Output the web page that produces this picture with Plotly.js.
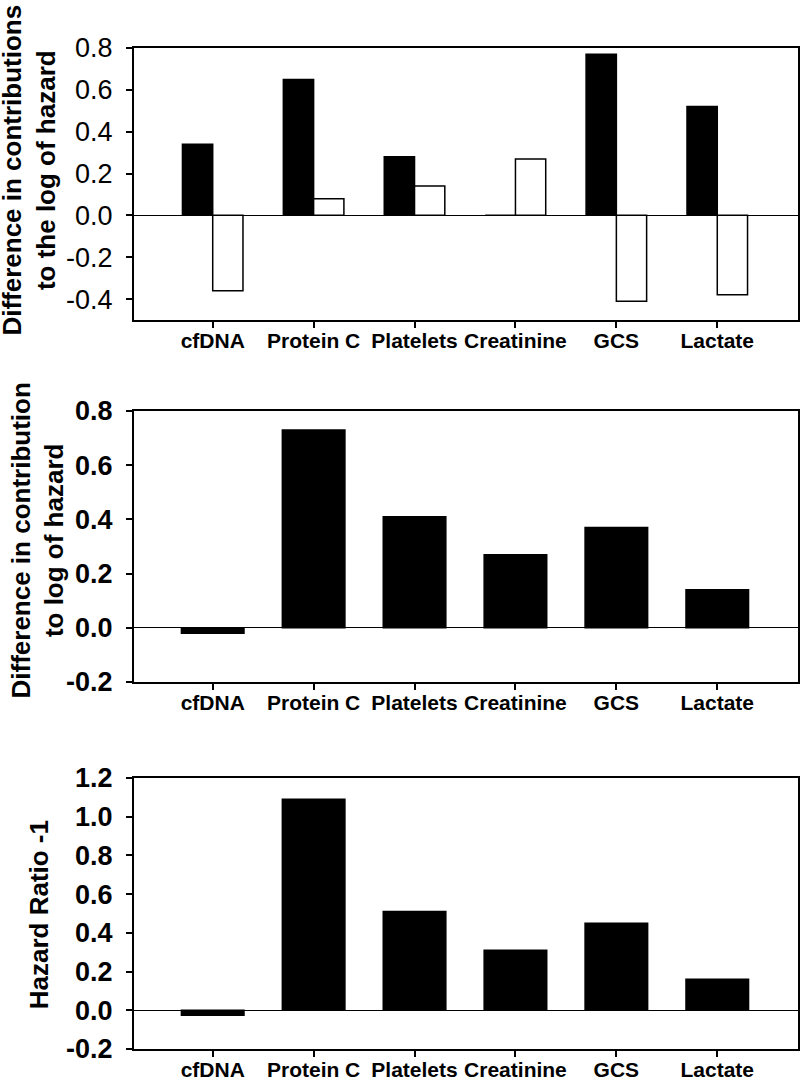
<!DOCTYPE html>
<html>
<head>
<meta charset="utf-8">
<script src="https://cdn.plot.ly/plotly-3.0.1.min.js"></script>
<style>html,body{margin:0;padding:0;background:#fff;}</style>
</head>
<body>
<div id="chart" style="width:800px;height:1080px;"></div>
<script>
// Categories
const categories = ['cfDNA', 'Protein C', 'Platelets', 'Creatinine', 'GCS', 'Lactate'];

// Panel 1: difference in contributions to the log of hazard (two series)
const panel1Filled = [0.34, 0.65, 0.28, 0.0, 0.77, 0.52];
const panel1Open   = [-0.36, 0.08, 0.14, 0.27, -0.41, -0.38];

// Panel 2: difference in contribution to log of hazard
const panel2Values = [-0.02, 0.73, 0.41, 0.27, 0.37, 0.14];

// Panel 3: hazard ratio - 1
const panel3Values = [-0.025, 1.09, 0.51, 0.31, 0.45, 0.16];

// Tick labels
const p1TickVals = [-0.4, -0.2, 0.0, 0.2, 0.4, 0.6, 0.8];
const p1TickText = ['-0.4', '-0.2', '0.0', '0.2', '0.4', '0.6', '0.8'];
const p2TickVals = [-0.2, 0.0, 0.2, 0.4, 0.6, 0.8];
const p2TickText = ['-0.2', '0.0', '0.2', '0.4', '0.6', '0.8'];
const p3TickVals = [-0.2, 0.0, 0.2, 0.4, 0.6, 0.8, 1.0, 1.2];
const p3TickText = ['-0.2', '0.0', '0.2', '0.4', '0.6', '0.8', '1.0', '1.2'];

const FONT = 'Liberation Sans, Arial, sans-serif';
const catIdx = categories.map((c, i) => i);

const barLine = {color: '#000', width: 1.5};

const traces = [
  {type: 'bar', x: catIdx, y: panel1Filled, xaxis: 'x', yaxis: 'y',
   width: 0.3, offset: -0.3, marker: {color: '#000', line: barLine}, showlegend: false},
  {type: 'bar', x: catIdx, y: panel1Open, xaxis: 'x', yaxis: 'y',
   width: 0.3, offset: 0.0, marker: {color: '#fff', line: barLine}, showlegend: false},
  {type: 'bar', x: catIdx, y: panel2Values, xaxis: 'x2', yaxis: 'y2',
   width: 0.62, marker: {color: '#000', line: barLine}, showlegend: false},
  {type: 'bar', x: catIdx, y: panel3Values, xaxis: 'x3', yaxis: 'y3',
   width: 0.62, marker: {color: '#000', line: barLine}, showlegend: false}
];

function xAxis(anchor) {
  return {
    anchor: anchor, domain: [0, 1], range: [-0.78, 5.8],
    tickmode: 'array', tickvals: catIdx, ticktext: categories,
    ticks: 'outside', ticklen: 6, tickwidth: 2, tickcolor: '#000',
    showline: true, linecolor: '#000', linewidth: 2, mirror: true,
    showgrid: false, zeroline: false, automargin: false,
    tickfont: {family: FONT, size: 21, color: '#000', weight: 'bold'},
    ticklabelstandoff: -5
  };
}
function yAxis(anchor, domain, range, vals, text, bold) {
  return {
    anchor: anchor, domain: domain, range: range,
    tickmode: 'array', tickvals: vals, ticktext: text,
    ticks: 'outside', ticklen: 6, tickwidth: 2, tickcolor: '#000',
    showline: true, linecolor: '#000', linewidth: 2, mirror: true,
    showgrid: false, zeroline: true, zerolinecolor: '#000', zerolinewidth: 1,
    automargin: false,
    tickfont: {family: FONT, size: 27, color: '#000', weight: bold ? 'bold' : 'normal'},
    ticklabelstandoff: 8
  };
}

const layout = {
  width: 800, height: 1080,
  margin: {l: 134, r: 2, t: 48, b: 31},
  paper_bgcolor: '#fff', plot_bgcolor: '#fff',
  barmode: 'overlay',
  font: {family: FONT, color: '#000'},
  xaxis: xAxis('y'),
  xaxis2: xAxis('y2'),
  xaxis3: xAxis('y3'),
  yaxis: yAxis('x', [0.7283, 1.0], [-0.5, 0.8], p1TickVals, p1TickText, false),
  yaxis2: yAxis('x2', [0.3666, 0.6374], [-0.2, 0.8], p2TickVals, p2TickText, true),
  yaxis3: yAxis('x3', [0.0, 0.2707], [-0.2, 1.2], p3TickVals, p3TickText, true),
  annotations: [
    {text: 'Difference in contributions<br>to the log of hazard', xref: 'paper', yref: 'paper',
     x: -0.1574, y: 0.878, xanchor: 'center', yanchor: 'middle', textangle: -90, showarrow: false,
     font: {family: FONT, size: 26, color: '#000', weight: 'bold'}},
    {text: 'Difference in contribution<br>to log of hazard', xref: 'paper', yref: 'paper',
     x: -0.1453, y: 0.5075, xanchor: 'center', yanchor: 'middle', textangle: -90, showarrow: false,
     font: {family: FONT, size: 26, color: '#000', weight: 'bold'}},
    {text: 'Hazard Ratio -1', xref: 'paper', yref: 'paper',
     x: -0.1426, y: 0.1339, xanchor: 'center', yanchor: 'middle', textangle: -90, showarrow: false,
     font: {family: FONT, size: 26, color: '#000', weight: 'bold'}}
  ]
};

Plotly.newPlot('chart', traces, layout, {displayModeBar: false, staticPlot: true});
</script>
</body>
</html>
